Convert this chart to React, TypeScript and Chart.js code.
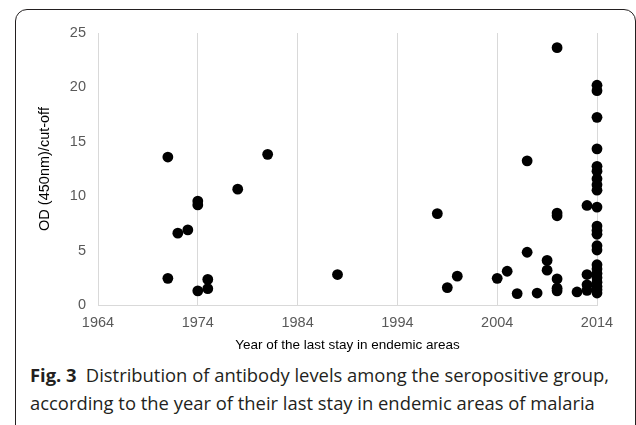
import React, { useEffect, useRef } from "react";
import { Chart, registerables } from "chart.js";

Chart.register(...registerables);

const xTickLabels = ["1964", "1974", "1984", "1994", "2004", "2014"];
const yTickLabels = ["0", "5", "10", "15", "20", "25"];

const years = [
  1971, 1971, 1972, 1973, 1974, 1974, 1974, 1975, 1975, 1978, 1981, 1988,
  1998, 1999, 2000, 2004, 2005, 2006, 2007, 2007, 2008, 2009, 2009,
  2010, 2010, 2010, 2010, 2010, 2010, 2012, 2013, 2013, 2013, 2013,
  2014, 2014, 2014, 2014, 2014, 2014, 2014, 2014, 2014, 2014, 2014, 2014,
  2014, 2014, 2014, 2014, 2014, 2014, 2014, 2014, 2014, 2014, 2014,
];

const odValues = [
  13.6, 2.45, 6.6, 6.9, 9.55, 9.2, 1.3, 2.35, 1.5, 10.65, 13.85, 2.8,
  8.4, 1.6, 2.65, 2.45, 3.1, 1.05, 13.25, 4.85, 1.1, 4.1, 3.2,
  23.65, 8.45, 8.2, 2.4, 1.55, 1.3, 1.2, 9.15, 2.8, 1.85, 1.35,
  20.2, 19.7, 17.25, 14.35, 12.75, 12.3, 11.6, 11.05, 10.55, 9.0, 7.25, 6.85,
  6.5, 5.45, 5.05, 3.7, 3.3, 2.9, 2.5, 2.1, 1.7, 1.4, 1.1,
];

const xTitle = "Year of the last stay in endemic areas";
const yTitle = "OD (450nm)/cut-off";

export default function App() {
  const ref = useRef<HTMLCanvasElement>(null);

  useEffect(() => {
    const canvas = ref.current;
    if (!canvas) return;
    const chart = new Chart(canvas, {
      type: "scatter",
      data: {
        datasets: [
          {
            data: years.map((x, i) => ({ x, y: odValues[i] })),
            backgroundColor: "#000",
            borderColor: "#000",
            borderWidth: 0,
            pointRadius: 5.4,
            pointHoverRadius: 5.4,
            clip: false,
          } as any,
        ],
      },
      options: {
        responsive: false,
        animation: false,
        devicePixelRatio: 1,
        layout: { padding: { top: 33, right: 39, left: 0, bottom: 0 } },
        plugins: { legend: { display: false }, tooltip: { enabled: false } },
        scales: {
          x: {
            type: "linear",
            min: 1964,
            max: 2014,
            afterBuildTicks: (s: any) => {
              s.ticks = xTickLabels.map((t) => ({ value: Number(t) }));
            },
            afterFit: (s: any) => {
              s.height = 55;
            },
            ticks: {
              callback: (_v: any, i: number) => xTickLabels[i],
              color: "#595959",
              font: { family: "'Liberation Sans', Arial, sans-serif", size: 14.5 },
              padding: 9,
              maxRotation: 0,
            },
            grid: { display: true, color: "#d9d9d9", lineWidth: 1, drawTicks: false, tickLength: 0 },
            border: { display: true, color: "#d9d9d9", width: 1 },
            title: {
              display: true,
              text: xTitle,
              color: "#000",
              font: { family: "'Liberation Sans', Arial, sans-serif", size: 13.5 },
              padding: { top: 0, bottom: 7 },
            },
          },
          y: {
            type: "linear",
            min: 0,
            max: 25,
            afterBuildTicks: (s: any) => {
              s.ticks = yTickLabels.map((t) => ({ value: Number(t) }));
            },
            afterFit: (s: any) => {
              s.width = 98;
            },
            ticks: {
              callback: (_v: any, i: number) => yTickLabels[i],
              color: "#595959",
              font: { family: "'Liberation Sans', Arial, sans-serif", size: 14.5 },
              padding: 12,
            },
            grid: { display: false, drawTicks: false, tickLength: 0 },
            border: { display: true, color: "#d9d9d9", width: 1 },
            title: {
              display: true,
              text: yTitle,
              color: "#000",
              font: { family: "'Liberation Sans', Arial, sans-serif", size: 14.5 },
              padding: { top: 36, bottom: 0 },
            },
          },
        },
      },
    });
    return () => chart.destroy();
  }, []);

  return (
    <div style={{ position: "absolute", left: 0, top: 0, width: 636, height: 425, overflow: "hidden", background: "#fff" }}>
      <div
        style={{
          position: "absolute",
          left: 15,
          top: 9,
          width: 621,
          height: 460,
          boxSizing: "border-box",
          border: "1.5px solid #231f20",
          borderRadius: 12,
        }}
      />
      <canvas ref={ref} width={636} height={360} style={{ position: "absolute", left: 0, top: 0, width: 636, height: 360 }} />
      <div
        style={{
          position: "absolute",
          left: 30,
          top: 361,
          fontFamily: "'Open Sans', sans-serif",
          fontSize: 18.4,
          lineHeight: "28px",
          color: "#231f20",
          whiteSpace: "nowrap",
        }}
      >
        <span style={{ fontWeight: 700 }}>Fig. 3</span>
        <span>{"\u2002Distribution of antibody levels among the seropositive group,"}</span>
        <br />
        <span>according to the year of their last stay in endemic areas of malaria</span>
      </div>
    </div>
  );
}
